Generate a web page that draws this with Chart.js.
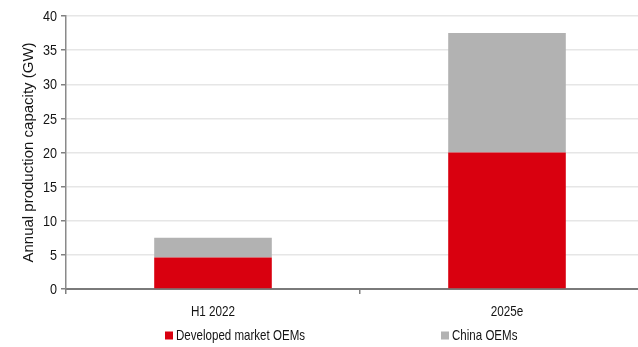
<!DOCTYPE html>
<html>
<head>
<meta charset="utf-8">
<script src="https://cdn.jsdelivr.net/npm/chart.js@4/dist/chart.umd.min.js"></script>
<style>
  html, body { margin: 0; padding: 0; background: #fff; overflow: hidden; }
  #wrap { width: 638px; height: 347px; overflow: hidden; position: relative; }
  #box { width: 680px; height: 347px; position: absolute; left: 0; top: 0; }
</style>
</head>
<body>
<div id="wrap"><div id="box"><canvas id="c" width="680" height="347"></canvas></div></div>
<script>
const categories = ['H1 2022', '2025e'];
const developedOEMs = [4.6, 20];
const chinaOEMs = [2.9, 17.5];
const yTicks = [0, 5, 10, 15, 20, 25, 30, 35, 40];

const FONT = "'Liberation Sans', Arial, sans-serif";
const RED = '#d9000f';
const GREY = '#b2b2b2';
const TEXT = '#141414';

// Draws a string squeezed horizontally, to get a narrow typeface look
function narrowText(ctx, str, x, y, align, size, squeeze) {
  ctx.save();
  ctx.font = size + 'px ' + FONT;
  ctx.textAlign = align;
  ctx.textBaseline = 'middle';
  ctx.fillStyle = TEXT;
  ctx.translate(x, y);
  ctx.scale(squeeze, 1);
  ctx.fillText(str, 0, 0);
  ctx.restore();
}

// Tick labels and the legend, drawn in a condensed style
const narrowLabels = {
  id: 'narrowLabels',
  afterDraw(chart) {
    const ctx = chart.ctx;
    const xs = chart.scales.x, ys = chart.scales.y;
    ys.ticks.forEach(t => {
      narrowText(ctx, String(t.value), 57, ys.getPixelForValue(t.value) + 1, 'right', 15, 0.84);
    });
    chart.data.labels.forEach((lab, i) => {
      narrowText(ctx, lab, xs.getPixelForValue(i), 312, 'center', 15, 0.78);
    });
    const legendX = [165, 441];
    const ly = 335.5;
    chart.data.datasets.forEach((ds, i) => {
      ctx.fillStyle = ds.backgroundColor;
      ctx.fillRect(legendX[i], ly - 4, 8, 8);
      narrowText(ctx, ds.label, legendX[i] + 11, ly, 'left', 15, 0.77);
    });
  }
};

new Chart(document.getElementById('c'), {
  type: 'bar',
  data: {
    labels: categories,
    datasets: [
      { label: 'Developed market OEMs', data: developedOEMs, backgroundColor: RED },
      { label: 'China OEMs', data: chinaOEMs, backgroundColor: GREY }
    ]
  },
  options: {
    responsive: false,
    animation: false,
    devicePixelRatio: 1,
    layout: { padding: { left: 0, right: 26, top: 16, bottom: 26 } },
    plugins: { legend: { display: false }, tooltip: { enabled: false } },
    datasets: { bar: { categoryPercentage: 1, barPercentage: 0.4 } },
    scales: {
      x: {
        stacked: true,
        offset: true,
        grid: { offset: true, drawOnChartArea: false, drawTicks: true, tickLength: 5, color: '#808080', lineWidth: 1.5 },
        border: { color: '#7a7a7a', width: 2 },
        ticks: { display: false },
        afterFit(s) { s.height = 32; }
      },
      y: {
        stacked: true,
        min: 0, max: 40,
        afterBuildTicks(s) { s.ticks = yTicks.map(v => ({ value: v })); },
        grid: { color: '#e6e6e6', lineWidth: 1.5, tickColor: '#808080', tickLength: 5 },
        border: { color: '#8a8a8a', width: 1.5 },
        ticks: { display: false },
        title: { display: true, text: 'Annual production capacity (GW)', color: TEXT, font: { family: FONT, size: 15 }, padding: { top: 20, bottom: 0 } },
        afterFit(s) { s.width = 66; }
      }
    }
  },
  plugins: [narrowLabels]
});
</script>
</body>
</html>
